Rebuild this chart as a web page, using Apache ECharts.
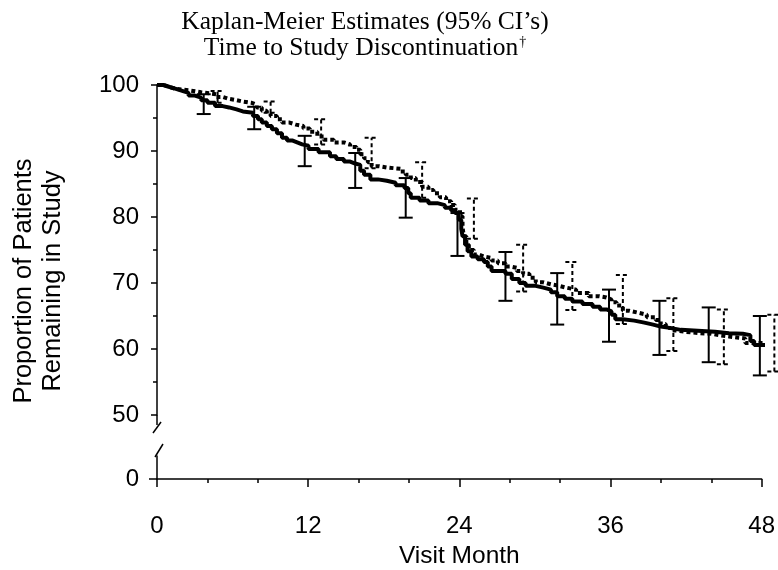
<!DOCTYPE html>
<html>
<head>
<meta charset="utf-8">
<script src="https://cdn.jsdelivr.net/npm/echarts@6/dist/echarts.min.js"></script>
<style>
  html, body { margin: 0; padding: 0; background: #fff; }
  #chart { width: 778px; height: 570px; }
</style>
</head>
<body>
<div id="chart"></div>
<script>
// solid curve (KM estimate, group 1)
const solidMonths = [0, 0.5, 1.0, 1.5, 2.0, 2.5, 3.0, 3.5, 4.0, 4.6, 5.2, 5.7, 6.3, 6.8, 7.6, 8.0, 8.3, 8.7, 9.1, 9.5, 9.9, 10.3, 10.7, 11.1, 11.5, 12.0, 12.8, 13.7, 14.2, 14.8, 15.3, 15.7, 16.1, 16.4, 16.9, 17.5, 18.2, 18.9, 19.6, 19.9, 20.1, 20.8, 21.5, 22.2, 22.8, 23.3, 23.6, 23.9, 24.1, 24.2, 24.4, 24.6, 24.9, 25.4, 25.9, 26.2, 26.5, 27.6, 28.1, 28.7, 29.2, 29.9, 30.6, 31.2, 31.7, 32.3, 32.9, 33.7, 34.5, 35.1, 35.6, 36.0, 36.3, 36.9, 37.8, 38.6, 39.3, 39.9, 40.6, 41.5, 42.5, 43.5, 44.2, 45.3, 46.4, 47.0, 47.3, 48.2]
const solidSurv = [100, 99.7, 99.4, 99.1, 98.8, 98.4, 98.1, 97.7, 97.3, 96.8, 96.6, 96.3, 96.0, 95.8, 95.3, 94.8, 94.3, 93.8, 93.3, 92.7, 92.0, 91.6, 91.3, 91.0, 90.8, 90.3, 89.8, 89.2, 88.8, 88.4, 88.1, 87.9, 87.0, 86.4, 85.7, 85.5, 85.2, 84.8, 84.4, 83.6, 82.9, 82.5, 82.1, 81.8, 81.4, 81.0, 80.6, 79.6, 78.2, 77.1, 75.8, 74.8, 74.0, 73.6, 73.2, 72.5, 71.8, 71.4, 70.6, 70.0, 69.6, 69.3, 69.0, 68.6, 68.0, 67.6, 67.2, 66.8, 66.4, 66.0, 65.7, 65.2, 64.5, 64.3, 64.0, 63.7, 63.4, 63.2, 62.9, 62.8, 62.7, 62.6, 62.4, 62.3, 62.1, 61.2, 60.6, 60.6]

// dashed curve (KM estimate, group 2)
const dashMonths = [0, 0.5, 1.0, 1.5, 2.5, 3.5, 4.7, 5.2, 5.7, 6.3, 6.8, 7.5, 7.9, 8.3, 8.7, 9.0, 9.5, 9.9, 10.5, 11.0, 11.6, 12.1, 12.7, 13.2, 14.0, 14.8, 15.3, 15.8, 16.1, 16.4, 16.7, 17.0, 17.6, 18.2, 19.3, 19.7, 20.1, 20.5, 21.0, 21.5, 21.9, 22.4, 22.9, 23.3, 23.6, 24.0, 24.2, 24.3, 24.5, 24.7, 25.1, 25.5, 25.9, 26.5, 27.0, 27.6, 28.0, 28.5, 29.0, 29.5, 30.0, 30.6, 31.2, 31.8, 32.4, 33.2, 34.2, 35.0, 35.6, 36.0, 36.4, 36.9, 37.4, 38.1, 38.8, 39.5, 39.9, 40.3, 40.7, 41.1, 41.9, 43.0, 43.9, 44.5, 45.3, 46.1, 46.6, 48.9]
const dashSurv = [100, 99.7, 99.4, 99.2, 98.9, 98.6, 98.2, 97.9, 97.7, 97.5, 97.3, 97.0, 96.6, 96.1, 95.7, 95.3, 94.8, 94.3, 94.0, 93.8, 93.4, 92.9, 92.2, 91.7, 91.3, 91.0, 90.6, 90.2, 89.5, 88.9, 88.3, 87.7, 87.5, 87.3, 86.9, 86.4, 85.9, 85.3, 84.6, 84.1, 83.6, 83.0, 82.4, 81.8, 81.1, 80.1, 78.5, 77.1, 75.8, 75.0, 74.3, 74.0, 73.8, 73.4, 73.0, 72.5, 72.3, 71.8, 71.4, 70.8, 70.1, 69.8, 69.6, 69.3, 69.0, 68.5, 68.0, 67.8, 67.5, 67.1, 66.6, 65.8, 65.5, 65.2, 64.8, 64.4, 63.8, 63.2, 62.8, 62.6, 62.4, 62.3, 62.1, 61.9, 61.7, 61.6, 60.9, 60.9]

// 95% CI bars
const solidCiMonths = [3.7, 7.7, 11.7, 15.7, 19.7, 23.8, 27.6, 31.7, 35.8, 39.8, 43.7, 47.75]
const solidCiLow = [95.6, 93.3, 87.7, 84.4, 79.9, 74.1, 67.3, 63.7, 61.1, 59.1, 58.0, 56.0]
const solidCiHigh = [98.6, 96.7, 92.3, 89.7, 85.9, 80.6, 74.7, 71.5, 69.0, 67.3, 66.3, 65.0]

const dashCiMonths = [4.8, 9.0, 13.0, 17.0, 21.0, 25.1, 29.0, 32.9, 36.9, 40.9, 44.9, 48.9]
const dashCiLow = [97.3, 95.8, 91.0, 87.4, 82.9, 76.7, 68.7, 65.9, 63.8, 59.7, 57.7, 56.6]
const dashCiHigh = [99.1, 97.5, 94.8, 92.0, 88.3, 82.8, 75.8, 73.2, 71.2, 67.7, 66.0, 65.2]

const xTicks = [0, 12, 24, 36, 48]

const chart = echarts.init(document.getElementById('chart'))

const zip = (a, b) => a.map((v, i) => [v, b[i]])
const zip3 = (a, b, c) => a.map((v, i) => [v, b[i], c[i]])

// grid geometry
const L = 157, W = 606
const TOP = 85, H = 330
const BTOP = 456, BH = 23

function errorBar(dashed) {
  return function (params, api) {
    const x = api.value(0)
    const lo = api.coord([x, api.value(1)])
    const hi = api.coord([x, api.value(2)])
    const half = 7
    const style = {
      stroke: '#000',
      lineWidth: 2,
      lineDash: dashed ? [4, 3] : null,
      fill: null
    }
    return {
      type: 'group',
      children: [
        { type: 'line', shape: { x1: lo[0], y1: lo[1], x2: hi[0], y2: hi[1] }, style: style },
        { type: 'line', shape: { x1: hi[0] - half, y1: hi[1], x2: hi[0] + half, y2: hi[1] }, style: style },
        { type: 'line', shape: { x1: lo[0] - half, y1: lo[1], x2: lo[0] + half, y2: lo[1] }, style: style }
      ]
    }
  }
}

const axisFont = { color: '#000', fontFamily: 'Liberation Sans', fontSize: 24 }

chart.setOption({
  animation: false,
  backgroundColor: '#fff',
  title: {
    text: 'Kaplan-Meier Estimates (95% CI\u2019s)\nTime to Study Discontinuation{s|\u2020}',
    left: 360,
    top: 4,
    textAlign: 'center',
    textStyle: {
      fontFamily: 'Liberation Serif',
      fontWeight: 'normal',
      fontSize: 25.5,
      lineHeight: 26,
      color: '#000',
      rich: {
        s: { fontFamily: 'Liberation Serif', fontSize: 14, color: '#000', padding: [0, 0, 12, 1] }
      }
    }
  },
  grid: [
    { left: L, width: W, top: TOP, height: H },
    { left: L, width: W, top: BTOP, height: BH }
  ],
  xAxis: [
    { gridIndex: 0, type: 'value', min: 0, max: 48, show: false },
    {
      gridIndex: 1, type: 'value', min: 0, max: 48, interval: 12,
      axisLine: { lineStyle: { color: '#000', width: 1.5 } },
      axisTick: { length: 8, lineStyle: { color: '#000', width: 1.5 } },
      minorTick: { show: true, splitNumber: 3, length: 4, lineStyle: { color: '#000', width: 1.5 } },
      splitLine: { show: false },
      axisLabel: Object.assign({ margin: 35, customValues: xTicks }, axisFont),
      name: 'Visit Month',
      nameLocation: 'middle',
      nameGap: 65,
      nameTextStyle: { color: '#000', fontFamily: 'Liberation Sans', fontSize: 24.5 }
    }
  ],
  yAxis: [
    {
      gridIndex: 0, type: 'value', min: 50, max: 100, interval: 10,
      axisLine: { show: true, lineStyle: { color: '#000', width: 1.5 } },
      axisTick: { show: true, length: 6, lineStyle: { color: '#000', width: 1.5 } },
      minorTick: { show: true, splitNumber: 2, length: 4, lineStyle: { color: '#000', width: 1.5 } },
      splitLine: { show: false },
      axisLabel: Object.assign({ margin: 18 }, axisFont)
    },
    {
      gridIndex: 1, type: 'value', min: 0, max: 1,
      axisLine: { show: true, lineStyle: { color: '#000', width: 1.5 } },
      axisTick: { show: true, length: 8, customValues: [0], lineStyle: { color: '#000', width: 1.5 } },
      splitLine: { show: false },
      axisLabel: Object.assign({ margin: 18, customValues: [0] }, axisFont)
    }
  ],
  graphic: [
    {
      type: 'text',
      x: 38, y: 281,
      rotation: Math.PI / 2,
      style: {
        text: 'Proportion of Patients\nRemaining in Study',
        fontFamily: 'Liberation Sans',
        fontSize: 25.5,
        lineHeight: 29,
        fill: '#000',
        textAlign: 'center',
        textVerticalAlign: 'middle',
        align: 'center',
        verticalAlign: 'middle'
      }
    },
    // axis break marks
    { type: 'polyline', shape: { points: [[L, TOP + H], [L, TOP + H + 10]] }, style: { stroke: '#000', lineWidth: 1.5, fill: null } },
    { type: 'line', shape: { x1: L + 4, y1: TOP + H + 7, x2: L - 4, y2: TOP + H + 18 }, style: { stroke: '#000', lineWidth: 1.5 } },
    { type: 'line', shape: { x1: L - 2, y1: BTOP + 1, x2: L + 6, y2: BTOP - 12 }, style: { stroke: '#000', lineWidth: 1.5 } }
  ],
  series: [
    {
      name: 'solid', type: 'line', xAxisIndex: 0, yAxisIndex: 0,
      data: zip(solidMonths, solidSurv),
      step: 'end', symbol: 'none', clip: false, z: 4,
      lineStyle: { color: '#000', width: 4 }
    },
    {
      name: 'dashed', type: 'line', xAxisIndex: 0, yAxisIndex: 0,
      data: zip(dashMonths, dashSurv),
      step: 'end', symbol: 'none', clip: false, z: 3,
      lineStyle: { color: '#000', width: 4, type: [4, 3] }
    },
    {
      name: 'solid CI', type: 'custom', xAxisIndex: 0, yAxisIndex: 0,
      data: zip3(solidCiMonths, solidCiLow, solidCiHigh),
      renderItem: errorBar(false), clip: false, z: 5
    },
    {
      name: 'dashed CI', type: 'custom', xAxisIndex: 0, yAxisIndex: 0,
      data: zip3(dashCiMonths, dashCiLow, dashCiHigh),
      renderItem: errorBar(true), clip: false, z: 5
    }
  ]
})
</script>
</body>
</html>
